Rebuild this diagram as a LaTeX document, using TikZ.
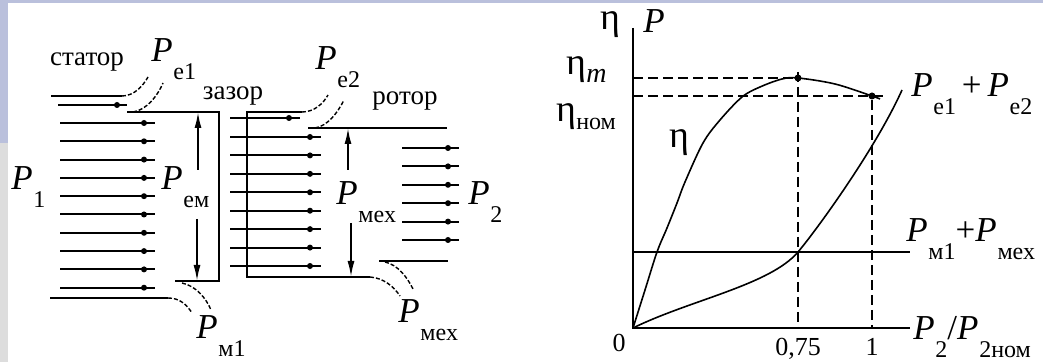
\documentclass[tikz,border=0pt]{standalone}
\usepackage{fontspec}
\setmainfont{Liberation Serif}
\usepackage{tikz}
\usetikzlibrary{arrows.meta, calc}
\definecolor{slideblue}{RGB}{186,192,220}
\definecolor{slidegray}{RGB}{221,221,221}
\newcommand{\Pw}{\textit{P}}
\newcommand{\subsz}{\fontsize{12}{12}\selectfont}
\newcommand{\sbx}[1]{\kern0.02em\raisebox{-0.5em}{\subsz #1}}

\begin{document}
\begin{tikzpicture}[
        x=0.5pt, y=-0.5pt,
        wall/.style={line width=1.1pt},
        flux/.style={line width=1pt},
        lossline/.style={line width=0.7pt, dash pattern=on 2pt off 1pt},
        guide/.style={line width=0.9pt, dash pattern=on 5pt off 2.5pt},
        curve/.style={line width=0.8pt},
        pdot/.style={circle, fill=black, inner sep=0pt, minimum size=3pt},
        powarrow/.style={line width=0.9pt, -{Latex[length=8pt, width=3.5pt]}},
        plab/.style={font=\fontsize{17.5}{17.5}\selectfont, anchor=base west, inner sep=0pt},
        txt/.style={font=\fontsize{13.5}{13.5}\selectfont, anchor=base, inner sep=0pt},
        etalab/.style={font=\fontsize{19}{19}\selectfont, anchor=base west, inner sep=0pt},
    ]

    \useasboundingbox (0,0) rectangle (1043,362);
    \fill[white] (0,0) rectangle (1043,362);
    \fill[slideblue] (0,0) rectangle (1043,3);
    \fill[slideblue] (0,3) rectangle (8,143);
    \fill[slidegray] (0,143) rectangle (8,362);

    % walls of stator, gap and rotor
    \draw[wall] (51,96) -- (122,96) coordinate (stB);
    \draw[wall] (50,298) -- (168,298) coordinate (stC);
    \draw[wall] (127,112) coordinate (gpA) -- (219,112) -- (219,281) -- (175,281) coordinate (gpB);
    \draw[wall] (302,112) coordinate (rtA) -- (247,112) -- (247,277) -- (370,277) coordinate (rtB);
    \draw[wall] (308,128) coordinate (rtC) -- (447,128);
    \draw[wall] (379,261) coordinate (rtD) -- (448,261);

    % power flow lines
    \draw[flux] (58,105) -- (127,105);
    \node[pdot] (sd) at (117,105) {};
    \foreach \k in {0,...,9} {
        \draw[flux] (60,{123+18.3*\k}) -- (155,{123+18.3*\k});
        \node[pdot] (sd\k) at (144,{123+18.3*\k}) {};
    }
    \draw[flux] (230,118) -- (300,118);
    \node[pdot] (gd) at (289,118) {};
    \foreach \k in {0,...,7} {
        \draw[flux] (230,{137+18.43*\k}) -- (321,{137+18.43*\k});
        \node[pdot] (gd\k) at (310,{137+18.43*\k}) {};
    }
    \foreach \k in {0,...,5} {
        \draw[flux] (402,{148+18.4*\k}) -- (459,{148+18.4*\k});
        \node[pdot] (rd\k) at (448,{148+18.4*\k}) {};
    }

    % labels
    \node[txt] (stator) at (87,66) {статор};
    \node[txt] (gap) at (233,100) {зазор};
    \node[txt] (rotor) at (405,105) {ротор};
    \node[plab] (P1) at (11,190) {\Pw\sbx{1}};
    \node[plab] (Pem) at (161,190) {\Pw\sbx{ем}};
    \node[plab] (Pmex) at (336,205) {\Pw\sbx{мех}};
    \node[plab] (P2) at (468,205) {\Pw\sbx{2}};
    \node[plab] (pe1) at (151,62) {\Pw\sbx{е1}};
    \node[plab] (pe2) at (315,70) {\Pw\sbx{е2}};
    \node[plab] (pm1) at (196,339) {\Pw\sbx{м1}};
    \node[plab] (pmex) at (398,323) {\Pw\sbx{мех}};

    % losses
    \coordinate (pe1a) at (148,77);
    \coordinate (pe1b) at (163,83);
    \coordinate (pm1a) at (192,313);
    \coordinate (pm1b) at (211,310);
    \coordinate (pe2a) at (328,95);
    \coordinate (pe2b) at (344,100);
    \coordinate (pmxa) at (400,296);
    \coordinate (pmxb) at (413,289);
    \draw[lossline] (stB) .. controls +(12,0) and +(-5,9) .. (pe1a);
    \draw[lossline] ($(gpA)+(6,0)$) .. controls +(14,-2) and +(-5,12) .. (pe1b);
    \draw[lossline] (stC) .. controls +(12,0) and +(-5,-8) .. (pm1a);
    \draw[lossline] ($(gpB)+(7,2)$) .. controls +(14,3) and +(-5,-12) .. (pm1b);
    \draw[lossline] (rtA) .. controls +(12,0) and +(-5,9) .. (pe2a);
    \draw[lossline] ($(rtC)+(7,0)$) .. controls +(13,-2) and +(-6,12) .. (pe2b);
    \draw[lossline] (rtB) .. controls +(14,1) and +(-6,-9) .. (pmxa);
    \draw[lossline] ($(rtD)+(6,1)$) .. controls +(13,3) and +(-6,-12) .. (pmxb);

    % electromagnetic and mechanical power
    \coordinate (emU) at (198,170);
    \coordinate (emD) at (197,219);
    \coordinate (mxU) at (348,170);
    \coordinate (mxD) at (351,223);
    \draw[powarrow] (emU) -- (emU |- gpA);
    \draw[powarrow] (emD) -- (emD |- gpB);
    \draw[powarrow] (mxU) -- (mxU |- rtC);
    \draw[powarrow] (mxD) -- (mxD |- rtB);

    % efficiency graph
    \coordinate (O) at (633,328);
    \draw[wall] (633,28) coordinate (ytop) -- (O) -- (910,328) coordinate (xend);
    \draw[wall] (633,252) coordinate (mechL) -- (910,252) coordinate (mechR);
    \node[pdot, minimum size=3.5pt] (etamax) at (798,78) {};
    \node[pdot, minimum size=3.5pt] (etanom) at (872,96) {};
    \draw[guide] (O |- etamax) -- (etamax);
    \draw[guide] (O |- etanom) -- (887,96);
    \draw[guide] (798,72) -- (etamax |- O);
    \draw[guide] (etanom) -- (etanom |- O);
    \draw[curve] plot[smooth, tension=0.55] coordinates {
        (633,328) (645,290) (657,252) (667,228) (677,203) (685,182)
        (703,143) (720,120) (742,97) (760,87) (782,79) (798,78)
        (835,84) (872,96) (880,99)};
    \coordinate (lossmid) at (798,252);
    \draw[curve] (O) .. controls (690,300) and (770,285) .. (lossmid)
        .. controls (815,232) and (875,150) .. (902,90);

    \node[etalab] (etaax) at (600,30) {η};
    \node[plab] (pax) at (643,33) {\Pw};
    \node[etalab] (etam) at (566,75) {η\raisebox{-4pt}{\fontsize{14}{14}\selectfont\textit{m}}};
    \node[etalab] (etan) at (556,122) {η\raisebox{-4pt}{\subsz ном}};
    \node[etalab] (etac) at (669,148) {η};
    \node[txt, font=\fontsize{13}{13}\selectfont] (zero) at (619,352) {0};
    \node[txt, font=\fontsize{13}{13}\selectfont] (tick75) at (798,356) {0,75};
    \node[txt, font=\fontsize{13}{13}\selectfont] (tick1) at (872,356) {1};
    \node[plab] (elsum) at (911,97) {\Pw\sbx{е1}\,+\,\Pw\sbx{е2}};
    \node[plab] (mxsum) at (906,242) {\Pw\sbx{м1}+\Pw\sbx{мех}};
    \node[plab] (xlab) at (913,340) {\Pw\sbx{2}/\Pw\sbx{2ном}};

\end{tikzpicture}
\end{document}
